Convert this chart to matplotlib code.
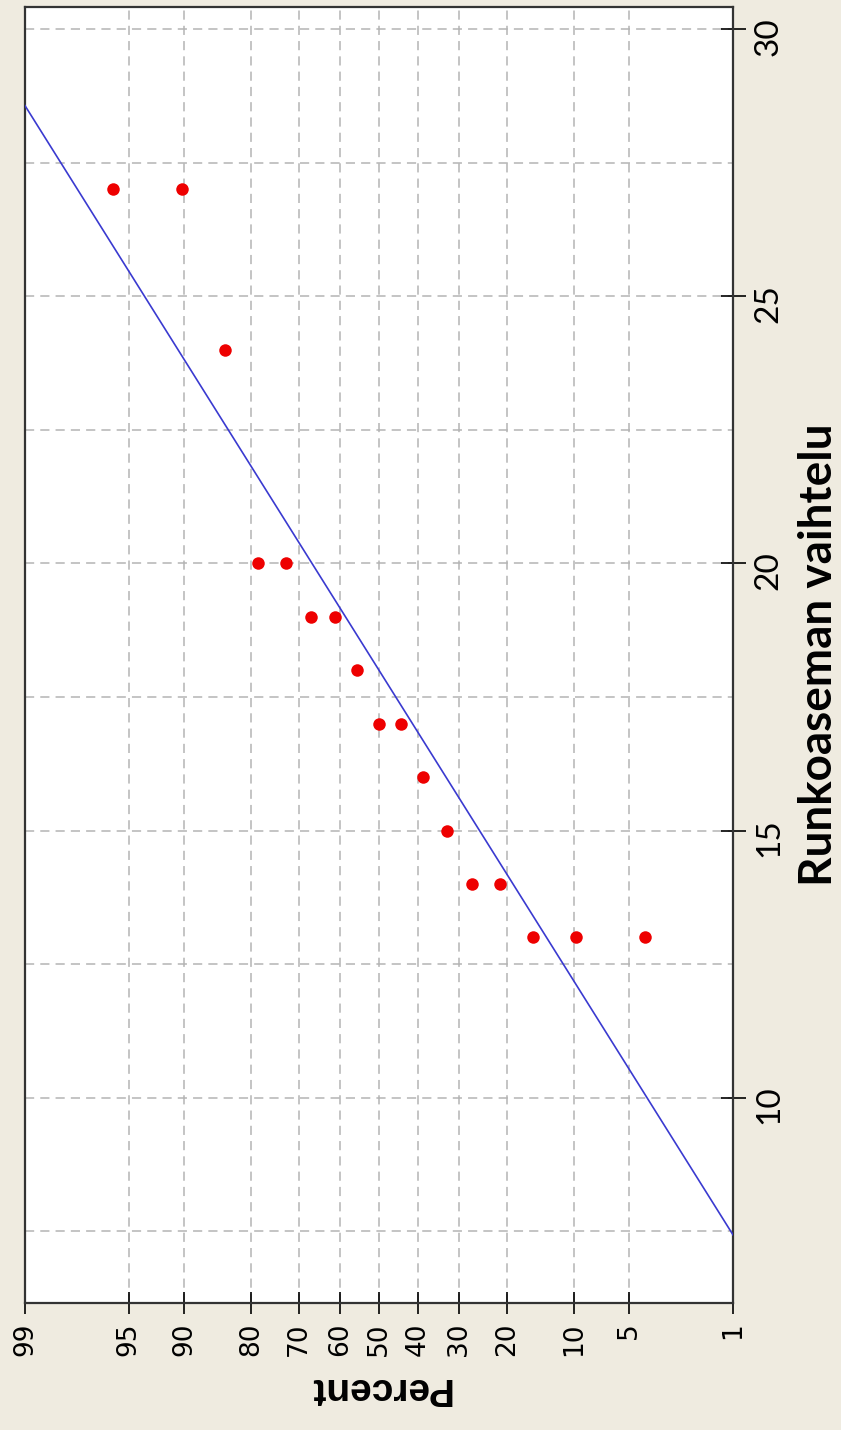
import numpy as np
import matplotlib
matplotlib.use("Agg")
import matplotlib.pyplot as plt
from matplotlib.ticker import FixedLocator, NullLocator
from statistics import NormalDist

values = [13, 13, 13, 14, 14, 15, 16, 17, 17, 18, 19, 19, 20, 20, 24, 27, 27]
percents = [4.0, 9.8, 15.5, 21.3, 27.0, 32.8, 38.5, 44.3, 50.0,
            55.7, 61.5, 67.2, 73.0, 78.7, 84.5, 90.2, 96.0]
pct_ticks = [99, 95, 90, 80, 70, 60, 50, 40, 30, 20, 10, 5, 1]
val_ticks = [10, 15, 20, 25, 30]
val_minor = [7.5, 12.5, 17.5, 22.5, 27.5]

nd = NormalDist()


def fwd(p):
    p = np.clip(np.asarray(p, dtype=float) / 100.0, 1e-6, 1 - 1e-6)
    return np.vectorize(nd.inv_cdf, otypes=[float])(p)


def inv(z):
    return np.vectorize(nd.cdf, otypes=[float])(np.asarray(z, dtype=float)) * 100.0


bg = '#efebe0'
fig = plt.figure(figsize=(8.41, 14.30), dpi=100, facecolor=bg)
ax = fig.add_axes([0.0297, 0.0888, 0.8419, 0.9063])
ax.set_facecolor('white')

ax.set_xscale('function', functions=(fwd, inv))
ax.set_xlim(99, 1)
ax.set_ylim(6.16, 30.41)

# fitted normal line
mu = np.mean(values)
sd = np.std(values, ddof=1)
lp = np.array([1, 99])
ax.plot(lp, mu + sd * fwd(lp), color='#3a3ad0', lw=1.2, zorder=3)

ax.plot(percents, values, 'o', color='#ee0000', ms=9, mec='none', zorder=4)

ax.xaxis.set_major_locator(FixedLocator(pct_ticks))
ax.xaxis.set_minor_locator(NullLocator())
ax.set_xticklabels([str(t) for t in pct_ticks], rotation=90, fontsize=19)
ax.yaxis.set_major_locator(FixedLocator(val_ticks))
ax.yaxis.set_minor_locator(FixedLocator(val_minor))
ax.yaxis.tick_right()
ax.yaxis.set_label_position('right')
for lab in ax.get_yticklabels():
    lab.set_rotation(90)
    lab.set_fontsize(24)
    lab.set_family('Lato')

ax.tick_params(axis='x', direction='inout', length=16, width=1.2, pad=6)
ax.tick_params(axis='y', which='major', direction='inout', length=18, width=1.2, pad=6)
ax.tick_params(axis='y', which='minor', length=0)

ax.grid(True, which='both', color='#b4b4b4', linestyle=(0, (6, 4)), lw=1.1)
ax.set_axisbelow(True)

for s in ax.spines.values():
    s.set_color('#333333')
    s.set_linewidth(1.6)

ax.set_xlabel('Percent', rotation=180, fontsize=28, fontweight='bold',
              family='Liberation Sans', labelpad=10)
ax.set_ylabel('Runkoaseman vaihtelu', rotation=90, fontsize=33, fontweight='bold',
              family='Lato', labelpad=10)

fig.savefig('out.png', dpi=100, facecolor=bg)
